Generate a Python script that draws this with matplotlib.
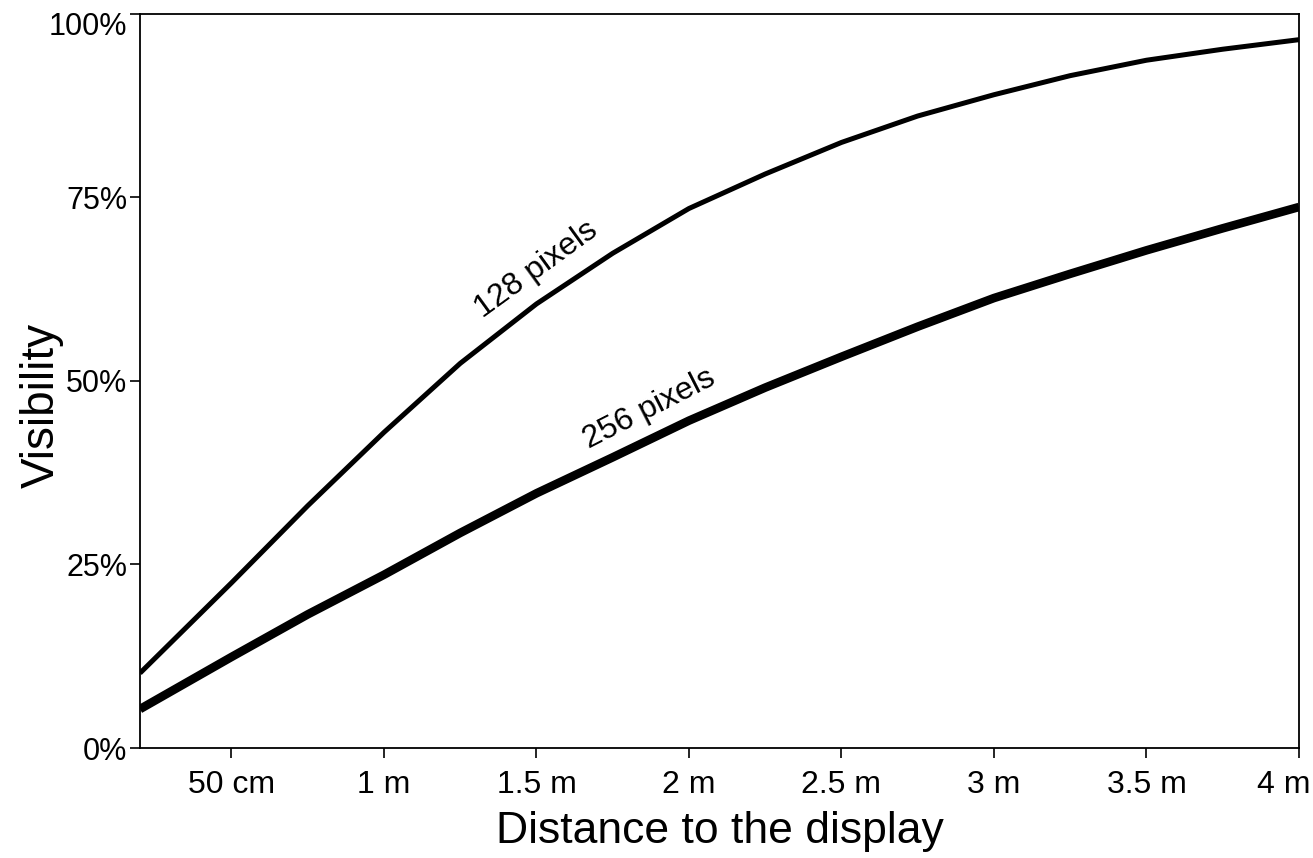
import numpy as np
import matplotlib
matplotlib.use("Agg")
import matplotlib.pyplot as plt
import matplotlib.transforms as mtransforms

plt.rcParams['font.family'] = ['Liberation Sans', 'DejaVu Sans']

# distance to the display (m)
distance = [0.2, 0.5, 0.75, 1.0, 1.25, 1.5, 1.75, 2.0, 2.25, 2.5, 2.75, 3.0, 3.25, 3.5, 3.75, 4.0]
# visibility (%)
vis_128 = [10.2, 22.5, 33.0, 43.0, 52.4, 60.5, 67.4, 73.5, 78.2, 82.5, 86.1, 89.0, 91.6, 93.7, 95.2, 96.5]
vis_256 = [5.3, 12.4, 18.2, 23.6, 29.3, 34.7, 39.6, 44.6, 49.1, 53.3, 57.4, 61.3, 64.6, 67.8, 70.8, 73.7]

xticks = [0.5, 1.0, 1.5, 2.0, 2.5, 3.0, 3.5, 4.0]
xtick_labels = ["50 cm", "1 m", "1.5 m", "2 m", "2.5 m", "3 m", "3.5 m", "4 m"]
yticks = [0, 25, 50, 75, 100]
ytick_labels = ["0%", "25%", "50%", "75%", "100%"]

fig = plt.figure(figsize=(13.13, 8.58), dpi=100)
ax = fig.add_axes([0.1066, 0.1282, 0.8827, 0.8555])

ax.plot(distance, vis_128, color='black', lw=3.6, solid_capstyle='butt', solid_joinstyle='round')
ax.plot(distance, vis_256, color='black', lw=6.2, solid_capstyle='butt', solid_joinstyle='round')

# labels along the curves
ax.text(1.5, 65.2, "128 pixels", rotation=36, ha='center', va='center', fontsize=23)
ax.text(1.87, 46.2, "256 pixels", rotation=27, ha='center', va='center', fontsize=23)

ax.set_xlim(0.2, 4.0)
ax.set_ylim(0, 100)
ax.set_xticks(xticks)
ax.set_xticklabels(xtick_labels)
ax.set_yticks(yticks)
ax.set_yticklabels(ytick_labels)
ax.tick_params(axis='x', labelsize=23, length=7, width=1.2, pad=9)
ax.tick_params(axis='y', labelsize=22, length=7, width=1.2, pad=2)

# keep the end labels inside the figure
last = ax.get_xticklabels()[-1]
last.set_transform(last.get_transform() + mtransforms.ScaledTranslation(-0.15, 0, fig.dpi_scale_trans))
top = ax.get_yticklabels()[-1]
top.set_va('top')
top.set_transform(top.get_transform() + mtransforms.ScaledTranslation(0, 0.02, fig.dpi_scale_trans))

for s in ax.spines.values():
    s.set_linewidth(1.3)

ax.set_xlabel("Distance to the display", fontsize=32, labelpad=8)
ax.set_ylabel("Visibility", fontsize=33)
ax.yaxis.set_label_coords(-0.066, 0.467)

fig.savefig("out.png", dpi=100)
